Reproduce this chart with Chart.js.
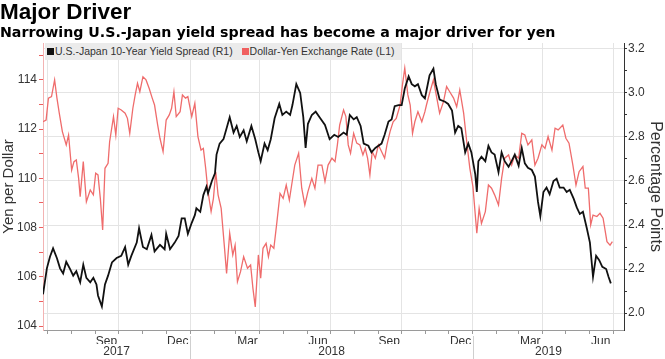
<!DOCTYPE html>
<html>
<head>
    <title>Major Driver</title>
    <script src="https://cdn.jsdelivr.net/npm/chart.js@4/dist/chart.umd.min.js"></script>
    <style>
        body {
            margin: 0;
            background-color: #ffffff;
            font-family: "Liberation Sans", Arial, sans-serif;
        }
        .wrap {
            position: relative;
            width: 665px;
            height: 359px;
        }
        .title {
            position: absolute;
            left: 0;
            top: 0;
            font-size: 22.5px;
            font-weight: bold;
            color: #000;
            line-height: 24px;
        }
        .subtitle {
            position: absolute;
            left: 0;
            top: 24px;
            font-family: "DejaVu Sans", sans-serif;
            font-size: 14.2px;
            font-weight: bold;
            color: #000;
            line-height: 17px;
            white-space: nowrap;
        }
        .legend {
            position: absolute;
            left: 45px;
            top: 43px;
            width: 356px;
            height: 17px;
            background-color: #ebebeb;
            font-size: 10.5px;
            color: #333;
            line-height: 17px;
            white-space: nowrap;
            z-index: 2;
        }
        .legend span.box {
            display: inline-block;
            width: 7px;
            height: 7px;
            margin: 0 1px 0 2px;
        }
        .chart-box {
            position: absolute;
            left: 0;
            top: 0;
            width: 665px;
            height: 359px;
        }
    </style>
</head>
<body>
    <div class="wrap">
        <div class="chart-box"><canvas id="driverChart"></canvas></div>
        <div class="title">Major Driver</div>
        <div class="subtitle">Narrowing U.S.-Japan yield spread has become a major driver for yen</div>
        <div class="legend">
            <span class="box" style="background:#111"></span>U.S.-Japan 10-Year Yield Spread (R1)
            <span class="box" style="background:#f06060;margin-left:6px"></span>Dollar-Yen Exchange Rate (L1)
        </div>
    </div>
    <script>
        // U.S.-Japan 10-year yield spread, percentage points (right axis)
        const spreadDates = [
            '2017-06-25','2017-06-30','2017-07-04','2017-07-08','2017-07-13','2017-07-17','2017-07-21','2017-07-25',
            '2017-07-30','2017-08-03','2017-08-07','2017-08-12','2017-08-16','2017-08-20','2017-08-25','2017-08-29',
            '2017-09-02','2017-09-04','2017-09-09','2017-09-13','2017-09-17','2017-09-22','2017-09-28','2017-10-04',
            '2017-10-09','2017-10-13','2017-10-17','2017-10-24','2017-10-27','2017-11-01','2017-11-06','2017-11-12',
            '2017-11-16','2017-11-23','2017-11-29','2017-12-01','2017-12-06','2017-12-12','2017-12-17','2017-12-21',
            '2017-12-25','2017-12-29','2018-01-03','2018-01-07','2018-01-09','2018-01-14','2018-01-18','2018-01-22',
            '2018-01-24','2018-01-29','2018-02-02','2018-02-04','2018-02-08','2018-02-13','2018-02-17','2018-02-21',
            '2018-02-26','2018-03-02','2018-03-06','2018-03-11','2018-03-15','2018-03-21','2018-03-26','2018-03-30',
            '2018-04-02','2018-04-07','2018-04-11','2018-04-15','2018-04-20','2018-04-26','2018-04-30','2018-05-05',
            '2018-05-10','2018-05-13','2018-05-18','2018-05-23','2018-05-27','2018-05-30','2018-06-02','2018-06-07',
            '2018-06-12','2018-06-17','2018-06-24','2018-06-30','2018-07-06','2018-07-11','2018-07-18','2018-07-22',
            '2018-07-26','2018-07-31','2018-08-04','2018-08-09','2018-08-13','2018-08-19','2018-08-23','2018-08-28',
            '2018-09-01','2018-09-05','2018-09-09','2018-09-14','2018-09-18','2018-09-22','2018-09-27','2018-10-01',
            '2018-10-05','2018-10-10','2018-10-14','2018-10-18','2018-10-22','2018-10-27','2018-10-31','2018-11-02',
            '2018-11-06','2018-11-11','2018-11-14','2018-11-19','2018-11-26','2018-11-30','2018-12-05','2018-12-09',
            '2018-12-13','2018-12-17','2018-12-22','2018-12-26','2018-12-30','2019-01-04','2019-01-06','2019-01-08',
            '2019-01-12','2019-01-17','2019-01-21','2019-01-25','2019-01-29','2019-02-03','2019-02-07','2019-02-11',
            '2019-02-16','2019-02-20','2019-02-24','2019-03-01','2019-03-05','2019-03-09','2019-03-13','2019-03-18',
            '2019-03-22','2019-03-26','2019-03-29','2019-04-02','2019-04-06','2019-04-10','2019-04-15','2019-04-19',
            '2019-04-23','2019-04-28','2019-05-02','2019-05-06','2019-05-11','2019-05-15','2019-05-19','2019-05-23',
            '2019-05-28','2019-06-01','2019-06-05','2019-06-09','2019-06-13','2019-06-17','2019-06-22','2019-06-25',
            '2019-06-28'
        ];
        const spreadValues = [
            2.085, 2.203, 2.256, 2.294, 2.249, 2.203, 2.18, 2.233,
            2.20, 2.17, 2.19, 2.14, 2.22, 2.16, 2.14, 2.16,
            2.13, 2.08, 2.03, 2.13, 2.17, 2.23, 2.25, 2.26,
            2.30, 2.22, 2.26, 2.32, 2.385, 2.30, 2.29, 2.355,
            2.28, 2.31, 2.29, 2.36, 2.29, 2.32, 2.35, 2.43,
            2.43, 2.36, 2.41, 2.445, 2.476, 2.46, 2.536, 2.574,
            2.544, 2.60, 2.635, 2.72, 2.77, 2.79, 2.84, 2.89,
            2.82, 2.85, 2.80, 2.83, 2.78, 2.85, 2.79, 2.73,
            2.69, 2.77, 2.74, 2.79, 2.885, 2.95, 2.90, 2.915,
            2.90, 2.945, 3.04, 3.00, 2.89, 2.75, 2.86, 2.90,
            2.915, 2.89, 2.855, 2.79, 2.81, 2.80, 2.82, 2.81,
            2.90, 2.88, 2.89, 2.85, 2.77, 2.76, 2.73, 2.75,
            2.76, 2.77, 2.81, 2.87, 2.88, 2.94, 2.945, 2.945,
            3.02, 3.075, 3.04, 3.03, 3.04, 2.99, 2.975, 3.01,
            3.08, 3.11, 3.04, 2.97, 2.96, 2.95, 2.92, 2.82,
            2.85, 2.84, 2.73, 2.77, 2.73, 2.63, 2.55, 2.69,
            2.71, 2.69, 2.76, 2.73, 2.72, 2.64, 2.73, 2.69,
            2.665, 2.69, 2.72, 2.67, 2.75, 2.68, 2.66, 2.65,
            2.62, 2.505, 2.44, 2.55, 2.57, 2.54, 2.60, 2.61,
            2.57, 2.57, 2.55, 2.56, 2.52, 2.48, 2.45, 2.46,
            2.385, 2.32, 2.165, 2.26, 2.24, 2.21, 2.20, 2.165,
            2.135
        ];

        // Dollar-yen exchange rate, yen per dollar (left axis)
        const usdJpyDates = [
            '2017-06-25','2017-06-29','2017-07-02','2017-07-06','2017-07-10','2017-07-13','2017-07-16','2017-07-20',
            '2017-07-25','2017-07-28','2017-08-01','2017-08-04','2017-08-07','2017-08-10','2017-08-12','2017-08-16',
            '2017-08-20','2017-08-25','2017-08-29','2017-09-01','2017-09-04','2017-09-07','2017-09-10','2017-09-13',
            '2017-09-17','2017-09-19','2017-09-24','2017-09-27','2017-09-30','2017-10-04','2017-10-09','2017-10-12',
            '2017-10-15','2017-10-19','2017-10-22','2017-10-25','2017-10-28','2017-11-01','2017-11-05','2017-11-09',
            '2017-11-13','2017-11-16','2017-11-20','2017-11-23','2017-11-27','2017-12-01','2017-12-05','2017-12-08',
            '2017-12-11','2017-12-14','2017-12-19','2017-12-22','2017-12-26','2017-12-29','2018-01-03','2018-01-07',
            '2018-01-11','2018-01-15','2018-01-18','2018-01-21','2018-01-24','2018-01-28','2018-01-31','2018-02-03',
            '2018-02-06','2018-02-10','2018-02-14','2018-02-17','2018-02-21','2018-02-25','2018-02-28','2018-03-03',
            '2018-03-07','2018-03-11','2018-03-16','2018-03-20','2018-03-23','2018-03-26','2018-03-30','2018-04-02',
            '2018-04-05','2018-04-09','2018-04-12','2018-04-15','2018-04-19','2018-04-23','2018-04-27','2018-05-01',
            '2018-05-05','2018-05-09','2018-05-12','2018-05-16','2018-05-21','2018-05-25','2018-05-29','2018-06-02',
            '2018-06-07','2018-06-11','2018-06-15','2018-06-20','2018-06-24','2018-06-28','2018-07-03','2018-07-07',
            '2018-07-10','2018-07-13','2018-07-18','2018-07-21','2018-07-24','2018-07-27','2018-07-31','2018-08-04',
            '2018-08-08','2018-08-12','2018-08-15','2018-08-18','2018-08-21','2018-08-24','2018-08-28','2018-09-01',
            '2018-09-05','2018-09-09','2018-09-12','2018-09-16','2018-09-20','2018-09-24','2018-09-29','2018-10-02',
            '2018-10-05','2018-10-09','2018-10-12','2018-10-15','2018-10-18','2018-10-22','2018-10-27','2018-10-31',
            '2018-11-02','2018-11-06','2018-11-11','2018-11-15','2018-11-19','2018-11-24','2018-11-28','2018-12-02',
            '2018-12-07','2018-12-11','2018-12-15','2018-12-20','2018-12-24','2018-12-28','2019-01-01','2019-01-06',
            '2019-01-09','2019-01-12','2019-01-17','2019-01-21','2019-01-25','2019-01-29','2019-02-03','2019-02-07',
            '2019-02-11','2019-02-16','2019-02-20','2019-02-24','2019-03-01','2019-03-05','2019-03-09','2019-03-13',
            '2019-03-18','2019-03-22','2019-03-26','2019-03-31','2019-04-04','2019-04-08','2019-04-13','2019-04-17',
            '2019-04-21','2019-04-27','2019-05-01','2019-05-05','2019-05-10','2019-05-14','2019-05-18','2019-05-23',
            '2019-05-26','2019-05-30','2019-06-02','2019-06-05','2019-06-10','2019-06-14','2019-06-18','2019-06-23',
            '2019-06-27','2019-06-30'
        ];
        const usdJpyValues = [
            112.30, 112.37, 113.26, 113.32, 114.00, 113.26, 112.65, 111.90,
            111.36, 111.76, 110.34, 110.68, 110.75, 110.00, 109.26, 110.68,
            109.05, 109.53, 109.33, 110.21, 110.14, 109.19, 107.90, 110.41,
            110.61, 111.49, 112.51, 111.76, 112.85, 112.78, 112.65, 112.44,
            111.83, 112.85, 113.39, 113.86, 113.52, 114.13, 114.00, 113.66,
            113.26, 112.98, 112.17, 111.63, 111.09, 112.37, 112.58, 112.85,
            113.52, 112.51, 112.71, 113.39, 113.26, 113.32, 112.51, 113.05,
            111.70, 111.15, 111.22, 110.41, 109.46, 108.65, 109.19, 110.27,
            109.33, 108.78, 107.29, 106.14, 107.77, 106.89, 107.29, 105.80,
            106.21, 106.82, 106.35, 106.48, 105.53, 104.78, 106.89, 105.94,
            107.16, 107.36, 106.82, 107.29, 107.16, 108.24, 109.39, 109.19,
            109.73, 109.12, 109.73, 110.54, 111.02, 109.60, 108.92, 109.46,
            110.00, 109.60, 110.54, 110.54, 109.87, 110.54, 110.82, 110.68,
            111.36, 112.17, 112.78, 112.51, 111.36, 111.02, 111.83, 111.43,
            111.36, 110.95, 111.22, 110.82, 110.14, 111.09, 110.82, 111.36,
            111.09, 110.82, 111.36, 111.90, 112.30, 112.44, 112.98, 113.80,
            114.48, 113.39, 112.98, 111.83, 112.30, 112.71, 112.30, 112.71,
            112.98, 113.46, 114.00, 113.32, 112.65, 113.12, 113.73, 113.52,
            113.26, 112.91, 113.59, 112.65, 111.49, 110.41, 109.66, 107.77,
            108.78, 108.17, 108.65, 109.73, 109.60, 109.33, 108.92, 110.00,
            110.82, 110.95, 110.54, 110.95, 110.82, 111.83, 111.76, 111.36,
            111.56, 110.54, 110.82, 111.36, 111.22, 111.70, 111.15, 112.04,
            111.97, 112.17, 111.63, 111.43, 110.54, 109.73, 110.27, 110.48,
            109.60, 109.60, 108.11, 108.51, 108.45, 108.58, 108.38, 107.43,
            107.29, 107.43
        ];

        // axis labels and ranges
        const monthLabels = ['Sep', 'Dec', 'Mar', 'Jun', 'Sep', 'Dec', 'Mar', 'Jun'];
        const monthLabelDates = ['2017-09-15', '2017-12-16', '2018-03-16', '2018-06-15',
                                 '2018-09-15', '2018-12-16', '2019-03-16', '2019-06-15'];
        const yearLabels = ['2017', '2018', '2019'];
        const xStart = '2017-06-25';
        const xEnd = '2019-07-15';
        const yenMin = 103.84, yenMax = 115.5;
        const spreadMin = 1.923, spreadMax = 3.227;

        const toDay = s => Date.UTC(+s.slice(0, 4), +s.slice(5, 7) - 1, +s.slice(8, 10)) / 86400000;
        const pad2 = n => (n < 10 ? '0' : '') + n;

        // month boundary ticks plus mid-month label ticks
        function monthTicks() {
            const ticks = [];
            const end = toDay(xEnd);
            let y = +xStart.slice(0, 4), m = +xStart.slice(5, 7) + 1;
            while (true) {
                if (m > 12) { m = 1; y++; }
                const d = toDay(y + '-' + pad2(m) + '-01');
                if (d > end) break;
                ticks.push({ value: d, kind: (m - 1) % 3 === 0 ? 'quarter' : 'month', lbl: '' });
                m++;
            }
            monthLabelDates.forEach((s, i) => {
                ticks.push({ value: toDay(s), kind: 'label', lbl: monthLabels[i] });
            });
            return ticks.sort((a, b) => a.value - b.value);
        }

        function yearTicks() {
            const lo = toDay(xStart), hi = toDay(xEnd);
            return yearLabels.map(yr => {
                const a = Math.max(lo, toDay(yr + '-01-01'));
                const b = Math.min(hi, toDay((+yr + 1) + '-01-01'));
                return { value: (a + b) / 2, lbl: yr };
            });
        }

        // thin separators between the year labels
        const yearSeparators = {
            id: 'yearSeparators',
            afterDraw(chart) {
                const ctx = chart.ctx;
                const xs = chart.scales.x;
                ctx.save();
                ctx.strokeStyle = '#cfcfcf';
                ctx.lineWidth = 1;
                yearLabels.slice(1).forEach(yr => {
                    const px = Math.round(xs.getPixelForValue(toDay(yr + '-01-01'))) + 0.5;
                    ctx.beginPath();
                    ctx.moveTo(px, 336);
                    ctx.lineTo(px, 359);
                    ctx.stroke();
                });
                ctx.restore();
            }
        };

        const tickFont = { family: '"Liberation Sans", Arial, sans-serif', size: 12 };

        new Chart(document.getElementById('driverChart').getContext('2d'), {
            type: 'line',
            data: {
                datasets: [
                    {
                        label: 'U.S.-Japan 10-Year Yield Spread (R1)',
                        data: spreadDates.map((d, i) => ({ x: toDay(d), y: spreadValues[i] })),
                        borderColor: '#111111',
                        borderWidth: 1.8,
                        pointRadius: 0,
                        tension: 0,
                        xAxisID: 'x',
                        yAxisID: 'y1'
                    },
                    {
                        label: 'Dollar-Yen Exchange Rate (L1)',
                        data: usdJpyDates.map((d, i) => ({ x: toDay(d), y: usdJpyValues[i] })),
                        borderColor: '#ef6c6c',
                        borderWidth: 1.3,
                        pointRadius: 0,
                        tension: 0,
                        xAxisID: 'x',
                        yAxisID: 'y'
                    }
                ]
            },
            options: {
                responsive: true,
                maintainAspectRatio: false,
                animation: false,
                layout: { padding: { top: 43, left: 0, right: 0, bottom: 0 } },
                plugins: {
                    legend: { display: false },
                    tooltip: { enabled: false }
                },
                scales: {
                    x: {
                        type: 'linear',
                        position: 'bottom',
                        weight: 0,
                        min: toDay(xStart),
                        max: toDay(xEnd),
                        afterBuildTicks: scale => { scale.ticks = monthTicks(); },
                        afterFit: scale => { scale.height = 14; },
                        border: { color: '#9a9a9a' },
                        grid: {
                            color: c => (c.tick && c.tick.kind === 'quarter') ? '#e4e4e4' : 'rgba(0,0,0,0)',
                            tickColor: c => (c.tick && c.tick.kind !== 'label') ? '#9a9a9a' : 'rgba(0,0,0,0)',
                            tickLength: 4
                        },
                        ticks: {
                            autoSkip: false,
                            maxRotation: 0,
                            padding: 0,
                            color: '#333',
                            font: tickFont,
                            callback: (v, i, ticks) => ticks[i].lbl
                        }
                    },
                    xYear: {
                        type: 'linear',
                        position: 'bottom',
                        weight: 1,
                        min: toDay(xStart),
                        max: toDay(xEnd),
                        afterBuildTicks: scale => { scale.ticks = yearTicks(); },
                        afterFit: scale => { scale.height = 15; },
                        border: { display: false },
                        grid: { display: false, drawTicks: false, tickLength: 0 },
                        ticks: {
                            autoSkip: false,
                            maxRotation: 0,
                            padding: 0,
                            color: '#333',
                            font: tickFont,
                            callback: (v, i, ticks) => ticks[i].lbl
                        }
                    },
                    y: {
                        position: 'left',
                        min: yenMin,
                        max: yenMax,
                        afterFit: scale => { scale.width = 43; },
                        border: { color: '#f3b3b3' },
                        grid: {
                            drawOnChartArea: false,
                            tickColor: '#ec5f5f',
                            tickLength: 4
                        },
                        ticks: {
                            stepSize: 1,
                            includeBounds: false,
                            padding: 2,
                            color: '#333',
                            font: tickFont,
                            callback: v => (Math.round(v) % 2 === 0 ? Math.round(v) : '')
                        },
                        title: {
                            display: true,
                            text: 'Yen per Dollar',
                            color: '#333',
                            font: { family: '"Liberation Sans", Arial, sans-serif', size: 15 },
                            padding: { top: 0, bottom: 0 }
                        }
                    },
                    y1: {
                        position: 'right',
                        min: spreadMin,
                        max: spreadMax,
                        afterFit: scale => { scale.width = 41; },
                        border: { color: '#333' },
                        grid: {
                            color: c => (Math.round(c.tick.value * 10) % 2 === 0) ? '#e4e4e4' : 'rgba(0,0,0,0)',
                            tickColor: '#333',
                            tickLength: 3
                        },
                        ticks: {
                            stepSize: 0.1,
                            includeBounds: false,
                            padding: 1,
                            color: '#333',
                            font: tickFont,
                            callback: v => (Math.round(v * 10) % 2 === 0 ? v.toFixed(1) : '')
                        },
                        title: {
                            display: true,
                            text: 'Percentage Points',
                            color: '#333',
                            font: { family: '"Liberation Sans", Arial, sans-serif', size: 16 },
                            padding: { top: 0, bottom: 0 }
                        }
                    }
                }
            },
            plugins: [yearSeparators]
        });
    </script>
</body>
</html>
